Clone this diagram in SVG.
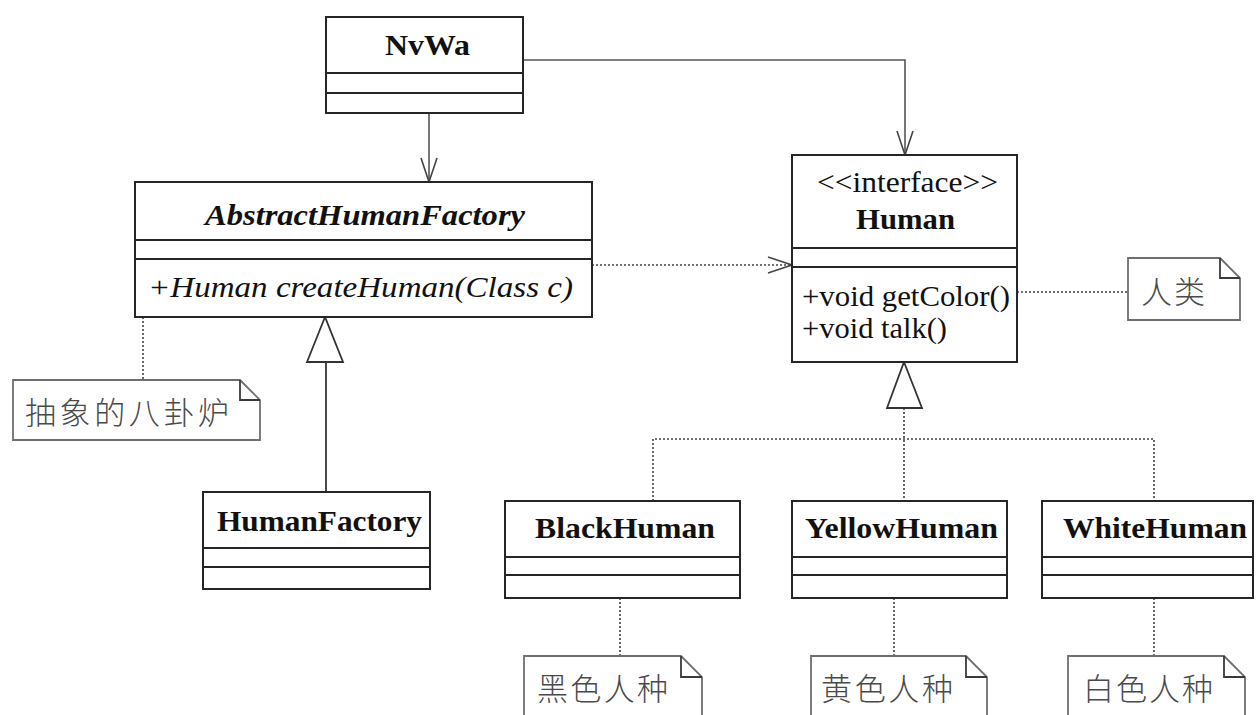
<svg xmlns="http://www.w3.org/2000/svg" width="1257" height="715" viewBox="0 0 1257 715">
  <defs>
    <style>
      .box { fill: #ffffff; stroke: #262626; stroke-width: 2; }
      .div { stroke: #262626; stroke-width: 2; }
      .note { fill: #ffffff; stroke: #6e6e6e; stroke-width: 1.8; }
      .fold { fill: none; stroke: #3a3a3a; stroke-width: 1.8; }
      .title { font-family: "Liberation Serif", "Times New Roman", serif; font-weight: bold; font-size: 30px; fill: #111; }
      .txt { font-family: "Liberation Serif", "Times New Roman", serif; font-size: 30px; fill: #111; }
      .cjk { font-family: "Noto Sans CJK SC", "Noto Sans", sans-serif; font-size: 31px; font-weight: 300; fill: #4a4a4a; }
      .solid { fill: none; stroke: #555; stroke-width: 1.6; }
      .dot { fill: none; stroke: #444; stroke-width: 1.6; stroke-dasharray: 2 2; }
      .gen { fill: #ffffff; stroke: #333; stroke-width: 1.8; }
    </style>
    <marker id="open" viewBox="0 0 26 18" refX="25" refY="9" markerWidth="26" markerHeight="18" markerUnits="userSpaceOnUse" orient="auto">
      <path d="M1,1 L25,9 L1,17" fill="none" stroke="#444" stroke-width="1.6"/>
    </marker>
  </defs>

  <!-- connectors -->
  <g id="connectors">
    <!-- associations from NvWa -->
    <path class="solid" d="M429,113 V182" marker-end="url(#open)"/>
    <path class="solid" d="M523,60 H905 V155" marker-end="url(#open)"/>
    <!-- dependency: factory creates Human -->
    <path class="dot" d="M592,265 H792" marker-end="url(#open)"/>
    <!-- HumanFactory extends AbstractHumanFactory -->
    <path class="solid" d="M326,362 V492" style="stroke:#333;stroke-width:1.8"/>
    <polygon class="gen" points="325,317 307,362 343,362"/>
    <!-- realizations of Human -->
    <path class="dot" d="M904,408 V501"/>
    <path class="dot" d="M653,501 V439 H1154 V501"/>
    <polygon class="gen" points="904,362 887,408 922,408"/>
    <!-- note anchors -->
    <path class="dot" d="M143,317 V380"/>
    <path class="dot" d="M1017,292 H1128"/>
    <path class="dot" d="M620,598 V656"/>
    <path class="dot" d="M894,598 V656"/>
    <path class="dot" d="M1154,598 V656"/>
  </g>

  <!-- NvWa -->
  <g id="nvwa">
    <rect class="box" x="326" y="17" width="197" height="96"/>
    <line class="div" x1="326" y1="73" x2="523" y2="73"/>
    <line class="div" x1="326" y1="93" x2="523" y2="93"/>
    <text class="title" x="427.5" y="55" text-anchor="middle" textLength="85" lengthAdjust="spacingAndGlyphs">NvWa</text>
  </g>

  <!-- AbstractHumanFactory -->
  <g id="abstract-human-factory">
    <rect class="box" x="135" y="182" width="457" height="135"/>
    <line class="div" x1="135" y1="240" x2="592" y2="240"/>
    <line class="div" x1="135" y1="259" x2="592" y2="259"/>
    <text class="title" x="205" y="225" font-style="italic" textLength="320" lengthAdjust="spacingAndGlyphs">AbstractHumanFactory</text>
    <text class="txt" x="148" y="297" font-style="italic" textLength="425" lengthAdjust="spacingAndGlyphs">+Human createHuman(Class c)</text>
  </g>

  <!-- Human interface -->
  <g id="human">
    <rect class="box" x="792" y="155" width="225" height="207"/>
    <line class="div" x1="792" y1="248" x2="1017" y2="248"/>
    <line class="div" x1="792" y1="267" x2="1017" y2="267"/>
    <text class="txt" x="817" y="192" font-size="28" textLength="181" lengthAdjust="spacingAndGlyphs">&lt;&lt;interface&gt;&gt;</text>
    <text class="title" x="856" y="229" textLength="99" lengthAdjust="spacingAndGlyphs">Human</text>
    <text class="txt" x="802" y="306" font-size="28" textLength="208" lengthAdjust="spacingAndGlyphs">+void getColor()</text>
    <text class="txt" x="802" y="338" font-size="28" textLength="145" lengthAdjust="spacingAndGlyphs">+void talk()</text>
  </g>

  <!-- HumanFactory -->
  <g id="human-factory">
    <rect class="box" x="203" y="492" width="227" height="97"/>
    <line class="div" x1="203" y1="548" x2="430" y2="548"/>
    <line class="div" x1="203" y1="567" x2="430" y2="567"/>
    <text class="title" x="217" y="531" textLength="205" lengthAdjust="spacingAndGlyphs">HumanFactory</text>
  </g>

  <!-- BlackHuman -->
  <g id="black-human">
    <rect class="box" x="505" y="501" width="235" height="97"/>
    <line class="div" x1="505" y1="557" x2="740" y2="557"/>
    <line class="div" x1="505" y1="575" x2="740" y2="575"/>
    <text class="title" x="535" y="538" textLength="180" lengthAdjust="spacingAndGlyphs">BlackHuman</text>
  </g>

  <!-- YellowHuman -->
  <g id="yellow-human">
    <rect class="box" x="792" y="501" width="215" height="97"/>
    <line class="div" x1="792" y1="557" x2="1007" y2="557"/>
    <line class="div" x1="792" y1="575" x2="1007" y2="575"/>
    <text class="title" x="805" y="538" textLength="193" lengthAdjust="spacingAndGlyphs">YellowHuman</text>
  </g>

  <!-- WhiteHuman -->
  <g id="white-human">
    <rect class="box" x="1042" y="501" width="211" height="97"/>
    <line class="div" x1="1042" y1="557" x2="1253" y2="557"/>
    <line class="div" x1="1042" y1="575" x2="1253" y2="575"/>
    <text class="title" x="1063" y="538" textLength="184" lengthAdjust="spacingAndGlyphs">WhiteHuman</text>
  </g>

  <!-- notes -->
  <g id="note-factory">
    <path class="note" d="M13,380 H240 L260,400 V440 H13 Z"/>
    <path class="fold" d="M240,380 V400 H260"/>
    <text class="cjk" x="25" y="424" textLength="204" lengthAdjust="spacing">抽象的八卦炉</text>
  </g>
  <g id="note-human">
    <path class="note" d="M1128,258 H1220 L1240,278 V320 H1128 Z"/>
    <path class="fold" d="M1220,258 V278 H1240"/>
    <text class="cjk" x="1141" y="303" textLength="64" lengthAdjust="spacing">人类</text>
  </g>
  <g id="note-black">
    <path class="note" d="M524,656 H681 L702,677 V730 H524 Z"/>
    <path class="fold" d="M681,656 V677 H702"/>
    <text class="cjk" x="537" y="700" textLength="131" lengthAdjust="spacing">黑色人种</text>
  </g>
  <g id="note-yellow">
    <path class="note" d="M811,656 H966 L987,677 V730 H811 Z"/>
    <path class="fold" d="M966,656 V677 H987"/>
    <text class="cjk" x="821" y="700" textLength="132" lengthAdjust="spacing">黄色人种</text>
  </g>
  <g id="note-white">
    <path class="note" d="M1068,656 H1224 L1245,677 V730 H1068 Z"/>
    <path class="fold" d="M1224,656 V677 H1245"/>
    <text class="cjk" x="1083" y="700" textLength="130" lengthAdjust="spacing">白色人种</text>
  </g>
</svg>
